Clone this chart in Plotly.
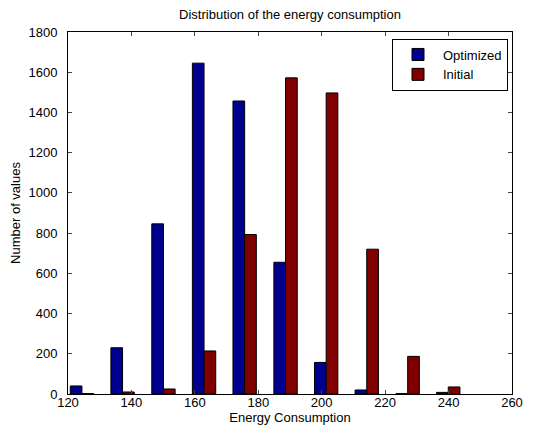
import plotly.graph_objects as go

bin_centers = [124.4, 137.2, 150.1, 162.9, 175.7, 188.6, 201.4, 214.2, 227.1, 239.9]
optimized = [40, 230, 846, 1645, 1457, 655, 157, 20, 2, 8]
initial = [2, 10, 25, 214, 793, 1572, 1497, 720, 187, 35]
x_ticks = [120, 140, 160, 180, 200, 220, 240, 260]
y_ticks = [0, 200, 400, 600, 800, 1000, 1200, 1400, 1600, 1800]

fig = go.Figure()
fig.add_trace(go.Bar(x=bin_centers, y=optimized, name="Optimized",
                     marker=dict(color="#00008F", line=dict(color="black", width=1))))
fig.add_trace(go.Bar(x=bin_centers, y=initial, name="Initial",
                     marker=dict(color="#800000", line=dict(color="black", width=1))))

# page has an 8px body margin, so the figure is sized to fit the 537x434 window
font = dict(family="Liberation Sans, Arial, sans-serif", size=13, color="black")
fig.update_layout(
    width=529, height=426,
    margin=dict(l=60, r=25, t=24, b=40),
    paper_bgcolor="white", plot_bgcolor="white",
    font=font,
    barmode="group", bargap=0.425, bargroupgap=0,
    title=dict(text="Distribution of the energy consumption", xref="paper", x=0.5,
               xanchor="center", y=0.984, yanchor="middle", font=dict(size=13)),
    showlegend=True,
    legend=dict(x=0.991, y=0.982, xanchor="right", yanchor="top",
                bordercolor="black", borderwidth=1, bgcolor="white",
                font=dict(size=13), tracegroupgap=0, itemwidth=40),
)
fig.update_xaxes(range=[120, 260], tickvals=x_ticks, ticks="inside", ticklen=4,
                 showline=True, linecolor="black", linewidth=1, mirror="ticks",
                 showgrid=False, zeroline=False, ticklabelstandoff=-4, automargin=False,
                 title=dict(text="Energy Consumption", standoff=0, font=dict(size=13)))
fig.update_yaxes(range=[0, 1800], tickvals=y_ticks, ticks="inside", ticklen=4,
                 showline=True, linecolor="black", linewidth=1, mirror="ticks",
                 showgrid=False, zeroline=False, ticklabelstandoff=7, automargin=False,
                 title=dict(text="Number of values", standoff=5, font=dict(size=13)))

fig.write_html("out.html")
